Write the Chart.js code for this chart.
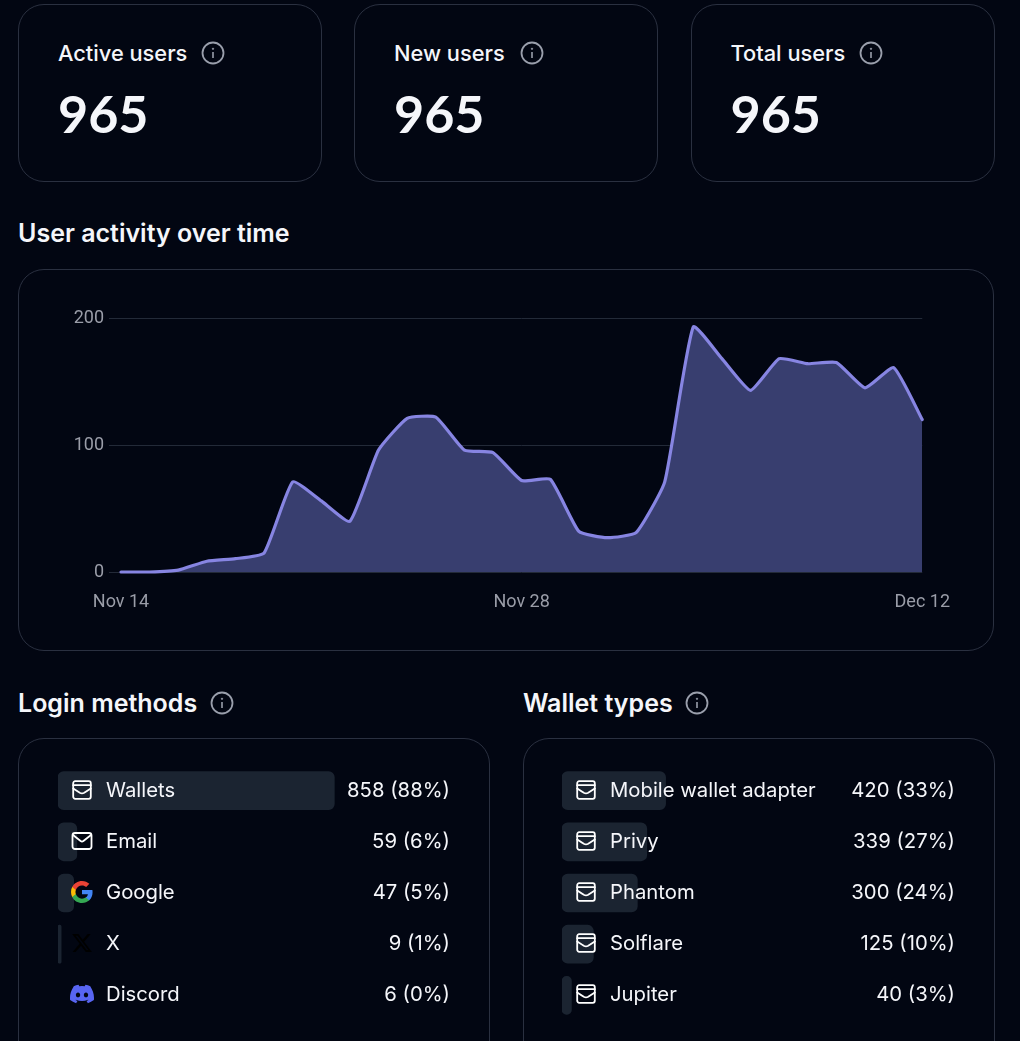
<!DOCTYPE html>
<html>
<head>
<meta charset="utf-8">
<title>User activity</title>
<script src="https://cdn.jsdelivr.net/npm/chart.js@4/dist/chart.umd.min.js"></script>
<style>
    html, body { margin: 0; padding: 0; background: #020612; }
    body { position: relative; width: 1020px; height: 1041px; overflow: hidden; font-family: Inter, sans-serif; color: #f5f6fa; }
    .card { position: absolute; box-sizing: border-box; border: 1.5px solid #2a3040; border-radius: 26px; }
    .text { position: absolute; white-space: nowrap; transform: translateY(-50%); }
    .stat-label { font-size: 21.8px; font-weight: 500; }
    .stat-value { font-family: Lato, sans-serif; font-size: 52px; font-weight: 700; }
    .heading { font-size: 25px; font-weight: 600; }
    .row-label, .row-value { font-size: 20.3px; font-weight: 400; z-index: 2; }
    .row-value { text-align: right; }
    .icon { position: absolute; z-index: 2; transform: translate(-50%, -50%); }
    canvas { position: absolute; }
</style>
</head>
<body>
<canvas id="activity-chart" width="902" height="320" style="left:60px;top:300px;width:902px;height:320px;z-index:1"></canvas>
<script>
    // --- Data ---
    const statLabels = ["Active users", "New users", "Total users"];
    const statValues = [965, 965, 965];

    const activityDays = [
        "Nov 14", "Nov 15", "Nov 16", "Nov 17", "Nov 18", "Nov 19", "Nov 20", "Nov 21", "Nov 22", "Nov 23",
        "Nov 24", "Nov 25", "Nov 26", "Nov 27", "Nov 28", "Nov 29", "Nov 30", "Dec 1", "Dec 2", "Dec 3",
        "Dec 4", "Dec 5", "Dec 6", "Dec 7", "Dec 8", "Dec 9", "Dec 10", "Dec 11", "Dec 12"
    ];
    const activityUsers = [
        0, 0, 1.5, 8.5, 10.5, 15, 71, 56, 40, 96,
        121, 122, 96, 94, 72, 73, 32, 27, 31, 71,
        193, 168, 143, 168, 164, 165, 145, 161, 120
    ];
    const shownDays = ["Nov 14", "Nov 28", "Dec 12"];
    const yTicks = [0, 100, 200];

    const loginNames = ["Wallets", "Email", "Google", "X", "Discord"];
    const loginCounts = [858, 59, 47, 9, 6];
    const loginPercents = [88, 6, 5, 1, 0];
    const loginIcons = ["wallet", "mail", "google", "x", "discord"];

    const walletNames = ["Mobile wallet adapter", "Privy", "Phantom", "Solflare", "Jupiter"];
    const walletCounts = [420, 339, 300, 125, 40];
    const walletPercents = [33, 27, 24, 10, 3];
    const walletIcons = ["wallet", "wallet", "wallet", "wallet", "wallet"];

    // --- Icons ---
    const ICONS = {
        wallet: '<svg width="24" height="24" viewBox="0 0 24 24" fill="none" stroke="#fff" stroke-width="1.8" stroke-linejoin="round" stroke-linecap="round"><rect x="3.2" y="3.2" width="17.6" height="17.6" rx="2"/><path d="M3.2 7.2h17.6M3.2 10.6l6.6 4.2c1.4.8 3 .8 4.400 0l6.600-4.200"/></svg>',
        mail: '<svg width="24" height="24" viewBox="0 0 24 24" fill="none" stroke="#fff" stroke-width="1.8" stroke-linejoin="round" stroke-linecap="round"><rect x="2.500" y="4" width="19" height="16" rx="2.500"/><path d="M3 6l7.600 6c.9.6 1.900.6 2.800 0l7.600-6"/></svg>',
        google: '<svg width="24" height="24" viewBox="0 0 24 24"><path fill="#4285F4" d="M22.56 12.25c0-.78-.07-1.530-.2-2.250H12v4.260h5.920c-.26 1.370-1.040 2.530-2.210 3.310v2.770h3.570c2.080-1.920 3.280-4.740 3.280-8.090z"/><path fill="#34A853" d="M12 23c2.970 0 5.460-.98 7.280-2.660l-3.570-2.770c-.98.66-2.230 1.060-3.710 1.060-2.860 0-5.290-1.930-6.160-4.530H2.180v2.840C3.990 20.530 7.700 23 12 23z"/><path fill="#FBBC05" d="M5.840 14.090c-.22-.66-.35-1.360-.35-2.090s.13-1.430.35-2.090V7.070H2.180C1.430 8.550 1 10.220 1 12s.43 3.450 1.180 4.930l3.660-2.840z"/><path fill="#EA4335" d="M12 5.380c1.620 0 3.060.56 4.210 1.640l3.150-3.150C17.450 2.090 14.970 1 12 1 7.700 1 3.990 3.470 2.180 7.070l3.660 2.840c.87-2.600 3.300-4.530 6.160-4.530z"/></svg>',
        x: '<svg width="22" height="22" viewBox="0 0 24 24" fill="#000"><path d="M18.244 2.250h3.308l-7.227 8.260 8.502 11.240H16.170l-5.214-6.817L4.990 21.750H1.680l7.730-8.835L1.254 2.250H8.080l4.713 6.231zm-1.161 17.520h1.833L7.084 4.126H5.117z"/></svg>',
        discord: '<svg width="24" height="24" viewBox="0 0 24 24" fill="#5865F2"><path d="M20.317 4.37a19.791 19.791 0 0 0-4.885-1.515.074.074 0 0 0-.079.037c-.21.375-.444.864-.608 1.25a18.27 18.27 0 0 0-5.487 0 12.64 12.64 0 0 0-.617-1.25.077.077 0 0 0-.079-.037A19.736 19.736 0 0 0 3.677 4.37a.07.07 0 0 0-.032.027C.533 9.046-.32 13.58.099 18.057a.082.082 0 0 0 .031.057 19.9 19.9 0 0 0 5.993 3.03.078.078 0 0 0 .084-.028 14.09 14.09 0 0 0 1.226-1.994.076.076 0 0 0-.041-.106 13.107 13.107 0 0 1-1.872-.892.077.077 0 0 1-.008-.128 10.2 10.2 0 0 0 .372-.292.074.074 0 0 1 .077-.01c3.928 1.793 8.18 1.793 12.062 0a.074.074 0 0 1 .078.01c.12.098.246.198.373.292a.077.077 0 0 1-.006.127 12.299 12.299 0 0 1-1.873.892.077.077 0 0 0-.041.107c.36.698.772 1.362 1.225 1.993a.076.076 0 0 0 .084.028 19.839 19.839 0 0 0 6.002-3.03.077.077 0 0 0 .032-.054c.5-5.177-.838-9.674-3.549-13.66a.061.061 0 0 0-.031-.03zM8.02 15.33c-1.183 0-2.157-1.085-2.157-2.419 0-1.333.956-2.419 2.157-2.419 1.21 0 2.176 1.096 2.157 2.42 0 1.333-.956 2.418-2.157 2.418zm7.975 0c-1.183 0-2.157-1.085-2.157-2.419 0-1.333.955-2.419 2.157-2.419 1.21 0 2.176 1.096 2.157 2.42 0 1.333-.946 2.418-2.157 2.418z"/></svg>',
        info: '<svg width="24" height="24" viewBox="0 0 24 24" fill="none" stroke="#9a9fac" stroke-width="1.800"><circle cx="12" cy="12" r="10.500"/><path d="M12 11v6" stroke-width="1.600"/><circle cx="12" cy="7.800" r="0.700" fill="#9a9fac" stroke-width="0.800"/></svg>'
    };

    // --- Layout helpers ---
    function addCard(left, top, width, height) {
        const card = document.createElement("div");
        card.className = "card";
        card.style.cssText = `left:${left}px;top:${top}px;width:${width}px;height:${height}px`;
        document.body.appendChild(card);
    }

    function addText(cls, str, x, y, rightAlign) {
        const el = document.createElement("div");
        el.className = "text " + cls;
        el.textContent = str;
        el.style.top = y + "px";
        if (rightAlign) el.style.right = (1020 - x) + "px";
        else el.style.left = x + "px";
        document.body.appendChild(el);
    }

    function addIcon(name, x, y) {
        const el = document.createElement("div");
        el.className = "icon";
        el.style.cssText = `left:${x}px;top:${y}px;line-height:0`;
        el.innerHTML = ICONS[name];
        document.body.appendChild(el);
    }

    // --- Stat cards ---
    const statLefts = [18, 354, 690.5];
    const statInfoX = [213, 532, 871];
    statLabels.forEach((label, i) => {
        addCard(statLefts[i], 4, 304, 178);
        addText("stat-label", label, statLefts[i] + 40, 53);
        addIcon("info", statInfoX[i], 53);
        addText("stat-value", String(statValues[i]), statLefts[i] + 40, 113);
    });

    // --- Headings and other cards ---
    addText("heading", "User activity over time", 18, 233);
    addCard(18, 269, 976, 382);
    addText("heading", "Login methods", 18, 703);
    addIcon("info", 222, 703);
    addText("heading", "Wallet types", 523, 703);
    addIcon("info", 697, 703);
    addCard(18, 738, 471.5, 340);
    addCard(523, 738, 471.5, 340);

    // --- Activity chart ---
    new Chart(document.getElementById("activity-chart"), {
        type: "line",
        data: {
            labels: activityDays,
            datasets: [{
                data: activityUsers,
                borderColor: "#8785e2",
                backgroundColor: "#383e6f",
                borderWidth: 3.2,
                fill: "origin",
                pointRadius: 0,
                tension: 0.15,
                borderCapStyle: "round",
                borderJoinStyle: "round",
                clip: false
            }]
        },
        options: {
            responsive: false,
            animation: false,
            layout: { padding: { top: 18, right: 35, left: 0, bottom: 0 } },
            plugins: { legend: { display: false }, tooltip: { enabled: false } },
            scales: {
                x: {
                    offset: false,
                    grid: { display: false },
                    border: { display: false },
                    afterFit: scale => { scale.height = 48; },
                    ticks: {
                        autoSkip: false,
                        maxRotation: 0,
                        padding: 12,
                        color: "#9a9da8",
                        font: { family: "Roboto", size: 18 },
                        callback: function (value) {
                            const label = this.getLabelForValue(value);
                            return shownDays.includes(label) ? label : "";
                        }
                    }
                },
                y: {
                    min: yTicks[0],
                    max: yTicks[yTicks.length - 1],
                    afterFit: scale => { scale.width = 61; },
                    grid: { color: "#232a38", lineWidth: 1, tickLength: 12 },
                    border: { display: false },
                    ticks: {
                        stepSize: 100,
                        padding: 5,
                        color: "#9a9da8",
                        font: { family: "Roboto", size: 18 }
                    }
                }
            }
        }
    });

    // --- Bar lists ---
    function addBarList(names, counts, percents, icons, opts) {
        const canvas = document.createElement("canvas");
        canvas.width = 314;
        canvas.height = 256;
        canvas.style.cssText = `left:${opts.barLeft}px;top:765px;width:314px;height:256px;z-index:1`;
        document.body.appendChild(canvas);

        new Chart(canvas, {
            type: "bar",
            data: {
                labels: names,
                datasets: [{
                    data: percents,
                    // a 0% bar still paints a hairline, so hide it
                    backgroundColor: percents.map(p => (p > 0 ? "#1b2431" : "transparent")),
                    borderRadius: 6,
                    borderSkipped: false,
                    barThickness: 38
                }]
            },
            options: {
                indexAxis: "y",
                responsive: false,
                animation: false,
                plugins: { legend: { display: false }, tooltip: { enabled: false } },
                scales: {
                    x: { display: false, min: 0, max: 100 },
                    y: { display: false }
                }
            }
        });

        names.forEach((name, i) => {
            const y = 789.6 + i * 51.2;
            addIcon(icons[i], opts.barLeft + 24, y);
            addText("row-label", name, opts.barLeft + 48, y - 1);
            addText("row-value", `${counts[i]} (${percents[i]}%)`, opts.valueRight, y - 1, true);
        });
    }

    addBarList(loginNames, loginCounts, loginPercents, loginIcons, { barLeft: 58, valueRight: 450 });
    addBarList(walletNames, walletCounts, walletPercents, walletIcons, { barLeft: 562, valueRight: 955 });
</script>
</body>
</html>
